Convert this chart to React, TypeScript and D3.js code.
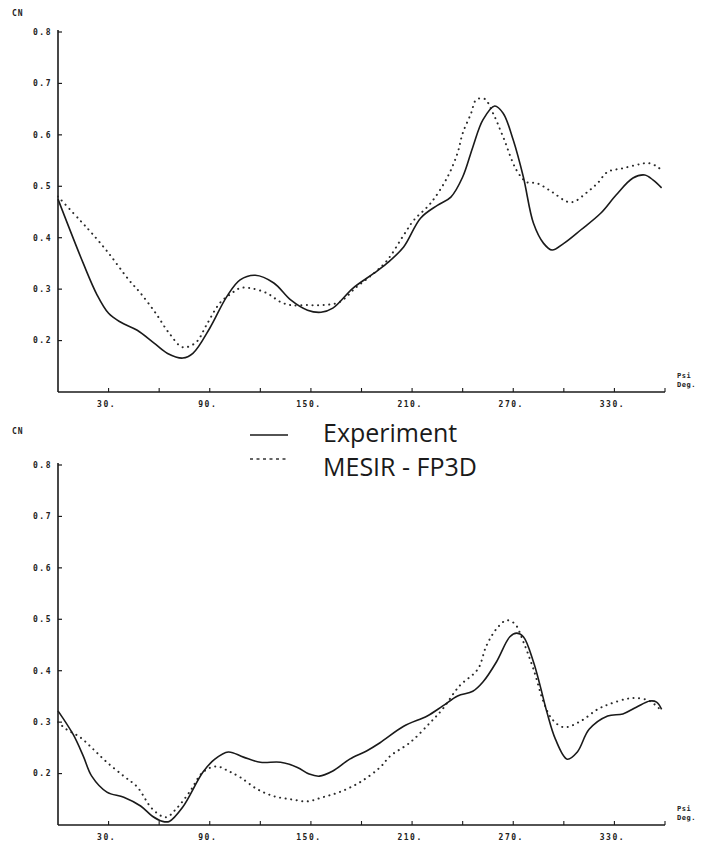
import React from "react";
import * as d3 from "d3";

// ---------- Data ----------
const xTickValues = [30, 60, 90, 120, 150, 180, 210, 240, 270, 300, 330, 360];
const xTickLabels = ["30.", "90.", "150.", "210.", "270.", "330."];
const xLabelValues = [30, 90, 150, 210, 270, 330];
const yTickValues = [0.2, 0.3, 0.4, 0.5, 0.6, 0.7, 0.8];
const yTickLabels = ["0.2", "0.3", "0.4", "0.5", "0.6", "0.7", "0.8"];

// Top chart
const topExpDeg = [0, 15, 23, 30, 37, 47, 57, 65, 74, 80, 90, 100, 108, 117, 128, 138, 148, 156, 163, 175, 187, 195, 205, 215, 225, 233, 240, 246, 252, 259, 264, 270, 276, 282, 288, 293, 300, 310, 322, 331, 341, 348, 353, 358];
const topExpCn = [0.475, 0.35, 0.29, 0.253, 0.236, 0.22, 0.195, 0.175, 0.166, 0.175, 0.224, 0.285, 0.318, 0.327, 0.312, 0.279, 0.259, 0.255, 0.263, 0.302, 0.33, 0.35, 0.382, 0.438, 0.463, 0.479, 0.518, 0.576, 0.629, 0.656, 0.642, 0.59, 0.518, 0.428, 0.389, 0.376, 0.389, 0.415, 0.448, 0.483, 0.516, 0.522, 0.512, 0.497];
const topMesDeg = [0, 13, 20, 30, 42, 49, 58, 66, 74, 82, 88, 96, 103, 108, 114, 124, 132, 138, 148, 157, 167, 177, 187, 195, 205, 211, 221, 231, 237, 240, 245, 248, 253, 258, 264, 272, 278, 284, 293, 302, 306, 314, 320, 326, 335, 345, 350, 355, 359];
const topMesCn = [0.48, 0.434, 0.409, 0.37, 0.318, 0.292, 0.253, 0.214, 0.187, 0.197, 0.23, 0.273, 0.292, 0.302, 0.302, 0.292, 0.275, 0.269, 0.269, 0.269, 0.275, 0.304, 0.33, 0.355, 0.405, 0.434, 0.467, 0.518, 0.565, 0.603, 0.642, 0.668, 0.67, 0.642, 0.596, 0.531, 0.508, 0.506, 0.489, 0.47, 0.47, 0.489, 0.506, 0.528, 0.535, 0.543, 0.545, 0.539, 0.528];

// Bottom chart
const botExpDeg = [0, 9, 15, 20, 29, 39, 49, 56, 62, 66, 74, 86, 93, 101, 110, 120, 132, 142, 149, 155, 163, 173, 183, 191, 205, 219, 228, 237, 246, 252, 260, 268, 272, 276, 282, 286, 290, 295, 302, 308, 315, 326, 335, 343, 351, 355, 358];
const botExpCn = [0.322, 0.276, 0.234, 0.195, 0.164, 0.154, 0.137, 0.117, 0.107, 0.107, 0.135, 0.203, 0.228, 0.242, 0.232, 0.222, 0.222, 0.212, 0.199, 0.195, 0.205, 0.228, 0.244, 0.26, 0.292, 0.312, 0.331, 0.351, 0.36, 0.378, 0.417, 0.466, 0.473, 0.466, 0.417, 0.37, 0.319, 0.267, 0.228, 0.242, 0.286, 0.312, 0.316, 0.329, 0.341, 0.339, 0.325];
const botMesDeg = [0, 5, 13, 21, 29, 39, 47, 56, 64, 70, 78, 86, 94, 101, 108, 118, 128, 138, 148, 157, 167, 179, 191, 197, 209, 221, 228, 238, 249, 254, 260, 266, 271, 276, 282, 288, 293, 300, 310, 320, 327, 337, 343, 351, 357];
const botMesCn = [0.3, 0.286, 0.271, 0.247, 0.222, 0.195, 0.174, 0.131, 0.115, 0.131, 0.164, 0.203, 0.214, 0.205, 0.193, 0.17, 0.156, 0.15, 0.146, 0.154, 0.164, 0.183, 0.212, 0.234, 0.261, 0.3, 0.325, 0.37, 0.403, 0.448, 0.481, 0.498, 0.491, 0.456, 0.403, 0.339, 0.306, 0.29, 0.302, 0.325, 0.335, 0.345, 0.347, 0.341, 0.325];

const legendLabels = ["Experiment", "MESIR - FP3D"];

// ---------- Layout ----------
const W = 706;
const H = 848;
const X0 = 58;
const X1 = 665;
const tickFont = "'DejaVu Sans Mono', monospace";

type PanelProps = {
  top: number;
  bottom: number;
  expDeg: number[];
  expCn: number[];
  mesDeg: number[];
  mesCn: number[];
  cnY: number;
};

function Panel({ top, bottom, expDeg, expCn, mesDeg, mesCn, cnY }: PanelProps) {
  const x = d3.scaleLinear().domain([0, 360]).range([X0, X1]);
  const y = d3.scaleLinear().domain([0.1, 0.8]).range([bottom, top]);
  const line = d3
    .line<[number, number]>()
    .x((d) => x(d[0]))
    .y((d) => y(d[1]))
    .curve(d3.curveCatmullRom.alpha(0.5));
  const exp = expDeg.map((d, i) => [d, expCn[i]] as [number, number]);
  const mes = mesDeg.map((d, i) => [d, mesCn[i]] as [number, number]);
  return (
    <g>
      {/* axes */}
      <line x1={X0} x2={X0} y1={y(0.8) - 2} y2={bottom} stroke="#1a1a1a" strokeWidth={1.6} />
      <line x1={X0} x2={X1} y1={bottom} y2={bottom} stroke="#1a1a1a" strokeWidth={1.4} />
      {yTickValues.map((v, i) => (
        <g key={"yt" + i}>
          <line x1={X0} x2={X0 + 4} y1={y(v)} y2={y(v)} stroke="#1a1a1a" strokeWidth={1.2} />
          <text
            x={52}
            y={y(v)}
            dy="0.35em"
            textAnchor="end"
            fontFamily={tickFont}
            fontSize={8}
            fontWeight="bold"
            letterSpacing={1.5}
            fill="#222"
          >
            {yTickLabels[i]}
          </text>
        </g>
      ))}
      {xTickValues.map((v, i) => (
        <line key={"xt" + i} x1={x(v)} x2={x(v)} y1={bottom} y2={bottom - 4} stroke="#1a1a1a" strokeWidth={1.1} />
      ))}
      {xLabelValues.map((v, i) => (
        <text
          key={"xl" + i}
          x={x(v) - 2}
          y={bottom + 15}
          textAnchor="middle"
          fontFamily={tickFont}
          fontSize={8}
          fontWeight="bold"
          letterSpacing={1.5}
          fill="#222"
        >
          {xTickLabels[i]}
        </text>
      ))}
      <text x={12} y={cnY} fontFamily={tickFont} fontSize={8} fontWeight="bold" letterSpacing={1} fill="#222">
        CN
      </text>
      <text x={677} y={bottom - 14} fontFamily={tickFont} fontSize={7} fontWeight="bold" letterSpacing={0.5} fill="#222">
        Psi
      </text>
      <text x={677} y={bottom - 5} fontFamily={tickFont} fontSize={7} fontWeight="bold" letterSpacing={0.5} fill="#222">
        Deg.
      </text>
      {/* curves */}
      <path d={line(mes) || ""} fill="none" stroke="#2a2a2a" strokeWidth={2} strokeDasharray="0.1 5.5" strokeLinecap="round" />
      <path d={line(exp) || ""} fill="none" stroke="#1a1a1a" strokeWidth={1.6} />
    </g>
  );
}

export default function App() {
  return (
    <svg
      width={W}
      height={H}
      viewBox={`0 0 ${W} ${H}`}
      style={{ position: "absolute", left: 0, top: 0, background: "#fff" }}
    >
      <rect x={0} y={0} width={W} height={H} fill="#fff" />
      <Panel top={32} bottom={392} expDeg={topExpDeg} expCn={topExpCn} mesDeg={topMesDeg} mesCn={topMesCn} cnY={16} />
      <Panel top={465} bottom={825} expDeg={botExpDeg} expCn={botExpCn} mesDeg={botMesDeg} mesCn={botMesCn} cnY={434} />
      {/* legend */}
      <line x1={250} x2={288} y1={435} y2={435} stroke="#1a1a1a" strokeWidth={1.4} />
      <line x1={250} x2={288} y1={459} y2={459} stroke="#333" strokeWidth={1.6} strokeDasharray="3 3.5" />
      <text x={323} y={442} fontFamily="'Open Sans', sans-serif" fontSize={25} fill="#1a1a1a">
        {legendLabels[0]}
      </text>
      <text x={323} y={476} fontFamily="'Open Sans', sans-serif" fontSize={25} fill="#1a1a1a">
        {legendLabels[1]}
      </text>
    </svg>
  );
}
